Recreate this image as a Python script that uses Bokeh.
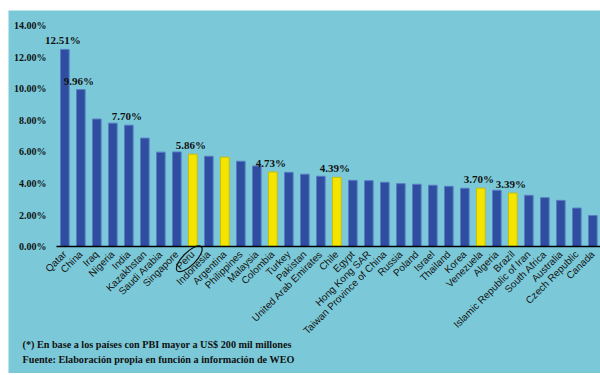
import math
from bokeh.plotting import figure
from bokeh.models import Range1d, FixedTicker, PrintfTickFormatter, Label, ColumnDataSource
from bokeh.core.properties import value
from bokeh.embed import file_html
from bokeh.resources import INLINE

countries = ["Qatar", "China", "Iraq", "Nigeria", "India", "Kazakhstan", "Saudi Arabia",
             "Singapore", "Peru", "Indonesia", "Argentina", "Philippines", "Malaysia",
             "Colombia", "Turkey", "Pakistan", "United Arab Emirates", "Chile", "Egypt",
             "Hong Kong SAR", "Taiwan Province of China", "Russia", "Poland", "Israel",
             "Thailand", "Korea", "Venezuela", "Algeria", "Brazil",
             "Islamic Republic of Iran", "South Africa", "Australia", "Czech Republic", "Canada"]
growth = [12.51, 9.96, 8.09, 7.83, 7.70, 6.88, 5.99, 6.00, 5.86, 5.73, 5.67, 5.41, 5.11,
          4.73, 4.71, 4.59, 4.46, 4.39, 4.20, 4.18, 4.08, 3.99, 3.95, 3.89, 3.82, 3.70,
          3.70, 3.57, 3.39, 3.25, 3.10, 2.93, 2.44, 1.97]
highlighted = ["Peru", "Argentina", "Colombia", "Chile", "Venezuela", "Brazil"]
labelled = ["Qatar", "China", "India", "Peru", "Colombia", "Chile", "Venezuela", "Brazil"]
circled = "Peru"
y_ticks = [0, 2, 4, 6, 8, 10, 12, 14]
notes = ["(*) En base a los países con PBI mayor a US$ 200 mil millones",
         "Fuente: Elaboración propia en función a información de WEO"]

BG = "#7BC9D8"
BLUE = "#2F4E9F"
YELLOW = "#F4E500"

idx = list(range(len(countries)))
colors = [YELLOW if c in highlighted else BLUE for c in countries]
edges = ["#C9BE00" if c in highlighted else "#5A7BC4" for c in countries]
src = ColumnDataSource(dict(x=idx, top=growth, color=colors, edge=edges))

lab_x = [countries.index(c) for c in labelled]
lab_y = [growth[i] for i in lab_x]
lab_t = ["%.2f%%" % v for v in lab_y]

p = figure(width=592, height=363,
           x_range=Range1d(-3.52, len(countries) - 0.52),
           y_range=Range1d(-8.06, 14.98),
           output_backend="svg", toolbar_location=None,
           min_border_left=0, min_border_right=0, min_border_top=0, min_border_bottom=0)
p.margin = (10, 0, 2, 8)
p.background_fill_color = BG
p.border_fill_color = BG
p.outline_line_color = None
p.xgrid.grid_line_color = None
p.ygrid.grid_line_color = None

p.vbar(x="x", top="top", width=0.54, source=src, fill_color="color",
       line_color="edge", line_width=1)

p.text(x=lab_x, y=lab_y, text=lab_t, x_offset=-2, y_offset=-3,
       text_align="center", text_baseline="bottom",
       text_font=value("Liberation Serif"), text_font_style="bold",
       text_font_size="11px", text_color="#111111")

# y axis, pinned just left of the first bar
p.yaxis.fixed_location = -0.52
p.yaxis.ticker = FixedTicker(ticks=y_ticks)
p.yaxis.formatter = PrintfTickFormatter(format="%.2f%%")
p.yaxis.axis_line_color = None
p.yaxis.major_tick_line_color = None
p.yaxis.minor_tick_line_color = None
p.yaxis.major_tick_out = 0
p.yaxis.major_tick_in = 0
p.yaxis.major_label_standoff = 10
p.yaxis.major_label_text_font = "Liberation Serif"
p.yaxis.major_label_text_font_style = "bold"
p.yaxis.major_label_text_font_size = "10px"
p.yaxis.major_label_text_color = "#111111"

# x axis, pinned at 0%
p.xaxis.fixed_location = 0
p.xaxis.bounds = (-0.52, len(countries) - 0.48)
p.xaxis.ticker = FixedTicker(ticks=idx)
p.xaxis.major_label_overrides = {i: c for i, c in zip(idx, countries)}
p.xaxis.axis_line_color = "#000000"
p.xaxis.axis_line_width = 1.5
p.xaxis.major_tick_line_color = None
p.xaxis.minor_tick_line_color = None
p.xaxis.major_tick_out = 0
p.xaxis.major_tick_in = 0
p.xaxis.major_label_orientation = math.pi / 4
p.xaxis.major_label_standoff = 6
p.xaxis.major_label_text_font = "Liberation Sans"
p.xaxis.major_label_text_font_size = "10px"
p.xaxis.major_label_text_color = "#151515"

# oval drawn round the Peru label
ci = countries.index(circled)
p.ellipse(x=[ci - 0.22], y=[-0.78], width=34, height=13, width_units="screen",
          height_units="screen", angle=math.pi / 4, fill_color=None,
          line_color="#111111", line_width=1.2)

for i, txt in enumerate(notes):
    p.add_layout(Label(x=14, y=29 - i * 15, x_units="screen", y_units="screen", text=txt,
                       text_font="Liberation Serif", text_font_style="bold",
                       text_font_size="10.2px", text_color="#111111",
                       text_baseline="middle"))

open("out.html", "w").write(file_html(p, INLINE))
